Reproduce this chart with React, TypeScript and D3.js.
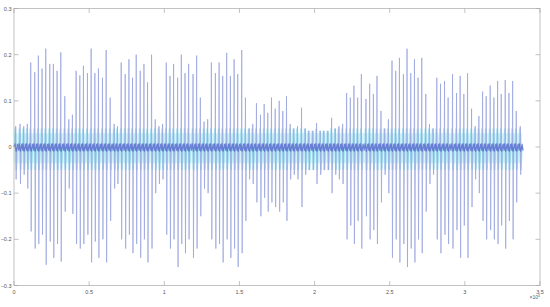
import React from "react";
import * as d3 from "d3";

// spike positions (sample index), positive peak, negative peak
const spikeX = [
  113, 400, 647, 887, 1113, 1380, 1620, 1867, 2113, 2380, 2620, 2867, 3113, 3380, 3647, 3887,
  4133, 4380, 4620, 4887, 5133, 5380, 5620, 5887, 6133, 6400, 6667, 6887, 7133, 7400, 7647, 7887,
  8133, 8400, 8647, 8887, 9153, 9400, 9647, 9887, 10133, 10380, 10620, 10887, 11133, 11380, 11620, 11913,
  12153, 12400, 12647, 12887, 13133, 13400, 13647, 13887, 14153, 14400, 14647, 14887, 15153, 15400, 15647, 15887,
  16133, 16400, 16647, 16887, 17133, 17380, 17647, 17887, 18133, 18380, 18620, 18867, 19133, 19380, 19620, 19887,
  20133, 20380, 20620, 20887, 21133, 21380, 21620, 21867, 22133, 22380, 22620, 22867, 23113, 23420, 23667, 23913,
  24153, 24420, 24667, 24913, 25153, 25400, 25647, 25913, 26153, 26400, 26647, 26887, 27133, 27400, 27647, 27887,
  28133, 28380, 28647, 28887, 29180, 29447, 29687, 29933, 30180, 30447, 30687, 30933, 31180, 31420, 31687, 31933,
  32180, 32420, 32687, 32933, 33180, 33420, 33687
];
const spikeTop = [
  0.045, 0.05, 0.045, 0.05, 0.183, 0.162, 0.198, 0.17, 0.213, 0.18, 0.18, 0.165, 0.205, 0.11, 0.06, 0.07,
  0.165, 0.155, 0.176, 0.16, 0.213, 0.16, 0.17, 0.15, 0.21, 0.107, 0.05, 0.045, 0.183, 0.158, 0.19, 0.15,
  0.2, 0.165, 0.18, 0.14, 0.2, 0.06, 0.045, 0.05, 0.183, 0.154, 0.18, 0.15, 0.2, 0.16, 0.18, 0.158,
  0.198, 0.107, 0.055, 0.06, 0.183, 0.16, 0.183, 0.154, 0.204, 0.154, 0.19, 0.158, 0.21, 0.107, 0.04, 0.05,
  0.095, 0.07, 0.093, 0.074, 0.107, 0.083, 0.1, 0.078, 0.11, 0.05, 0.04, 0.045, 0.085, 0.04, 0.035, 0.035,
  0.052, 0.035, 0.035, 0.035, 0.063, 0.04, 0.045, 0.05, 0.117, 0.107, 0.133, 0.107, 0.158, 0.104, 0.137, 0.115,
  0.154, 0.078, 0.04, 0.06, 0.187, 0.165, 0.193, 0.158, 0.213, 0.16, 0.19, 0.15, 0.193, 0.115, 0.05, 0.04,
  0.15, 0.137, 0.143, 0.107, 0.158, 0.117, 0.154, 0.115, 0.16, 0.083, 0.045, 0.067, 0.12, 0.11, 0.133, 0.107,
  0.143, 0.115, 0.145, 0.117, 0.143, 0.078, 0.045
];
const spikeBottom = [
  -0.07, -0.08, -0.06, -0.09, -0.183, -0.22, -0.21, -0.19, -0.255, -0.205, -0.24, -0.21, -0.248, -0.14, -0.09, -0.145,
  -0.21, -0.22, -0.21, -0.19, -0.25, -0.205, -0.24, -0.2, -0.25, -0.16, -0.09, -0.08, -0.2, -0.22, -0.19, -0.23,
  -0.21, -0.24, -0.2, -0.25, -0.22, -0.1, -0.08, -0.07, -0.19, -0.22, -0.2, -0.26, -0.21, -0.23, -0.2, -0.24,
  -0.22, -0.15, -0.09, -0.1, -0.2, -0.22, -0.21, -0.25, -0.2, -0.24, -0.22, -0.26, -0.23, -0.16, -0.07, -0.08,
  -0.12, -0.15, -0.11, -0.14, -0.12, -0.13, -0.14, -0.12, -0.16, -0.07, -0.06, -0.07, -0.13, -0.06, -0.05, -0.05,
  -0.08, -0.06, -0.05, -0.05, -0.1, -0.06, -0.07, -0.08, -0.2, -0.17, -0.21, -0.16, -0.22, -0.15, -0.2, -0.18,
  -0.21, -0.12, -0.06, -0.1, -0.24, -0.2, -0.25, -0.21, -0.26, -0.22, -0.25, -0.2, -0.23, -0.14, -0.08, -0.06,
  -0.2, -0.23, -0.19, -0.21, -0.22, -0.18, -0.24, -0.17, -0.24, -0.13, -0.07, -0.1, -0.16, -0.2, -0.18, -0.2,
  -0.21, -0.17, -0.22, -0.16, -0.2, -0.12, -0.06
];
const xTicks = [0, 5000, 10000, 15000, 20000, 25000, 30000, 35000];
const xTickLabels = ["0", "0.5", "1", "1.5", "2", "2.5", "3", "3.5"];
const yTicks = [-0.3, -0.2, -0.1, 0, 0.1, 0.2, 0.3];
const signalEnd = 33800;

const W = 550;
const H = 307;
const m = { left: 14, right: 10, top: 8.5, bottom: 21.5 };

export default function App() {
  const x = d3.scaleLinear().domain([0, 35000]).range([m.left, W - m.right]);
  const y = d3.scaleLinear().domain([-0.3, 0.3]).range([H - m.bottom, m.top]);
  const line = d3
    .line<[number, number]>()
    .x(d => x(d[0]))
    .y(d => y(d[1]));

  // dark core: small zigzag between spikes
  const core: [number, number][] = [[0, 0]];
  spikeX.forEach(s => {
    core.push([s - 60, 0.008]);
    core.push([s + 30, -0.01]);
    core.push([s + 120, 0.007]);
    core.push([s + 190, -0.008]);
  });
  core.push([signalEnd, 0]);

  const fontFamily = "Liberation Sans, Arial, sans-serif";
  const axisColor = "#a8a8a8";
  const textColor = "#555";

  return (
    <svg
      width={W}
      height={H}
      style={{ position: "fixed", left: 0, top: 0, background: "#fff" }}
    >
      {/* cyan band */}
      <rect
        x={x(0)}
        y={y(0.03)}
        width={x(signalEnd) - x(0)}
        height={y(-0.035) - y(0.03)}
        fill="#d2f3fa"
        opacity={0.9}
      />
      {spikeX.map((s, i) => (
        <path
          key={"c" + i}
          d={line([
            [s - 60, 0],
            [s - 30, Math.min(spikeTop[i], 0.04)],
            [s + 40, Math.max(spikeBottom[i], -0.05)],
            [s + 100, 0]
          ]) || ""}
          fill="none"
          stroke="#86dbf0"
          strokeWidth={1.8}
          opacity={0.7}
        />
      ))}
      {spikeX.map((s, i) => (
        <path
          key={"s" + i}
          d={line([
            [s - 20, 0],
            [s, spikeTop[i]],
            [s + 30, spikeBottom[i]],
            [s + 60, 0]
          ]) || ""}
          fill="none"
          stroke="#9ba5de"
          strokeWidth={0.9}
          opacity={0.85}
        />
      ))}
      <path d={line(core) || ""} fill="none" stroke="#5a6ecf" strokeWidth={1.1} opacity={0.85} />

      {/* axes box */}
      <rect
        x={x(0)}
        y={y(0.3)}
        width={x(35000) - x(0)}
        height={y(-0.3) - y(0.3)}
        fill="none"
        stroke={axisColor}
        strokeWidth={0.7}
      />
      {xTicks.map((t, i) => (
        <g key={"xt" + i}>
          <line x1={x(t)} x2={x(t)} y1={y(-0.3)} y2={y(-0.3) - 4.5} stroke={axisColor} strokeWidth={0.7} />
          <line x1={x(t)} x2={x(t)} y1={y(0.3)} y2={y(0.3) + 4.5} stroke={axisColor} strokeWidth={0.7} />
          <text
            x={x(t)}
            y={y(-0.3) + 8}
            fontSize={5.5}
            fontFamily={fontFamily}
            fill={textColor}
            textAnchor="middle"
          >
            {xTickLabels[i]}
          </text>
        </g>
      ))}
      {yTicks.map((t, i) => (
        <g key={"yt" + i}>
          <line x1={x(0)} x2={x(0) + 4.5} y1={y(t)} y2={y(t)} stroke={axisColor} strokeWidth={0.7} />
          <line x1={x(35000)} x2={x(35000) - 4.5} y1={y(t)} y2={y(t)} stroke={axisColor} strokeWidth={0.7} />
          <text
            x={x(0) - 2.5}
            y={y(t) + 2}
            fontSize={5.5}
            fontFamily={fontFamily}
            fill={textColor}
            textAnchor="end"
          >
            {d3.format("")(t)}
          </text>
        </g>
      ))}
      <text x={W - 10} y={H - 8} fontSize={5} fontFamily={fontFamily} fill={textColor} textAnchor="end">
        ×10<tspan fontSize={3.5} dy={-2}>4</tspan>
      </text>
    </svg>
  );
}
